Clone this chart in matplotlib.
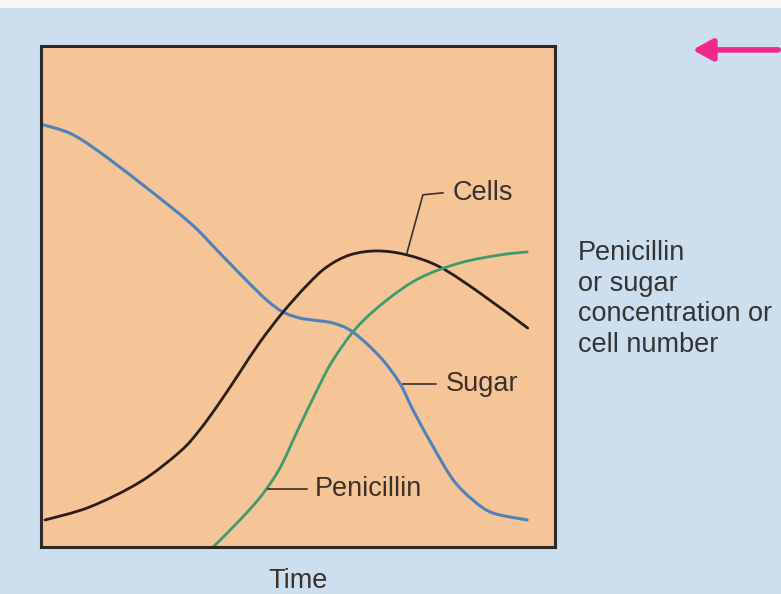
import numpy as np
import matplotlib.pyplot as plt
from matplotlib.path import Path
from matplotlib.patches import Rectangle, PathPatch, FancyArrowPatch

plt.rcParams['font.family'] = ['Liberation Sans', 'DejaVu Sans']

# values: time and level both on a 0-100 scale
sugar_t = [0.0, 5.6, 10.9, 19.3, 29.0, 34.2, 39.3, 43.9, 47.1, 50.4, 52.9, 56.8,
           60.7, 66.0, 69.8, 72.4, 76.3, 80.2, 84.0, 87.9, 94.6]
sugar_v = [84.4, 82.6, 79.2, 72.7, 64.7, 59.3, 53.9, 49.3, 46.9, 45.7, 45.3, 44.7,
           42.9, 37.9, 32.7, 27.3, 20.0, 13.4, 9.4, 6.8, 5.4]

cells_t = [0.8, 9.5, 19.3, 27.0, 30.9, 34.8, 38.7, 42.6, 47.1, 51.8, 55.6, 60.1,
           65.4, 71.2, 77.6, 85.4, 94.7]
cells_v = [5.4, 8.0, 13.0, 19.0, 23.4, 28.9, 34.9, 40.9, 46.9, 52.3, 55.9, 58.3,
           59.1, 58.3, 55.9, 50.7, 43.7]

pen_t = [33.5, 38.7, 43.0, 46.5, 49.8, 53.7, 56.8, 61.5, 67.3, 73.7, 81.5, 89.3, 94.6]
pen_v = [0.0, 5.4, 10.4, 15.8, 23.0, 31.3, 37.3, 43.9, 49.3, 53.7, 56.7, 58.3, 58.9]

bg = '#cddfee'
face = '#f5c597'
ink = '#3a302c'


def smooth_curve(ax, xs, ys, **kw):
    # Catmull-Rom curve through the read points, drawn as cubic Bezier segments
    p = np.column_stack([xs, ys]).astype(float)
    p = np.vstack([p[0], p, p[-1]])
    verts = [p[1]]
    codes = [Path.MOVETO]
    for i in range(1, len(p) - 2):
        c1 = p[i] + (p[i + 1] - p[i - 1]) / 6
        c2 = p[i + 1] - (p[i + 2] - p[i]) / 6
        verts += [c1, c2, p[i + 1]]
        codes += [Path.CURVE4] * 3
    patch = PathPatch(Path(verts, codes), fill=False, capstyle='round', **kw)
    ax.add_patch(patch)
    return patch


fig = plt.figure(figsize=(7.81, 5.94), dpi=100, facecolor=bg)
# pale strip along the top edge of the scan
fig.patches.append(Rectangle((0, 0.986), 1, 0.014, transform=fig.transFigure,
                             facecolor='#f4f6f8', edgecolor='none'))

ax = fig.add_axes([0.0525, 0.0791, 0.6581, 0.8434])
ax.set_facecolor(face)
ax.set_xlim(0, 100)
ax.set_ylim(0, 100)
ax.set_xticks([])
ax.set_yticks([])
for s in ax.spines.values():
    s.set_linewidth(2.2)
    s.set_color('#2e2826')

smooth_curve(ax, sugar_t, sugar_v, edgecolor='#4f82ba', lw=2.2)
smooth_curve(ax, cells_t, cells_v, edgecolor='#2b1d1a', lw=2.0)
smooth_curve(ax, pen_t, pen_v, edgecolor='#3f9a6c', lw=2.0)

# leader lines and curve labels
ax.plot([71.2, 74.3, 78.2], [58.7, 70.3, 70.7], color=ink, lw=1.2)
ax.text(80.0, 70.7, 'Cells', fontsize=19.5, color=ink, va='center')
ax.plot([70.4, 76.8], [32.5, 32.5], color=ink, lw=1.2)
ax.text(78.8, 32.5, 'Sugar', fontsize=19.5, color=ink, va='center')
ax.plot([44.2, 51.8], [11.6, 11.6], color=ink, lw=1.2)
ax.text(53.3, 11.6, 'Penicillin', fontsize=19.5, color=ink, va='center')

ax.set_xlabel('Time', fontsize=19.5, color=ink, labelpad=15)

fig.text(0.740, 0.4966, 'Penicillin\nor sugar\nconcentration or\ncell number',
         fontsize=19.5, color='#333333', va='center', ha='left', linespacing=1.22)

# pink arrow in the top right corner
fig.patches.append(FancyArrowPatch(
    (1.0, 0.916), (0.883, 0.916), transform=fig.transFigure,
    arrowstyle='-|>,head_length=12,head_width=6.5', color='#f0288a', lw=4))

fig.savefig('out.png', dpi=100, facecolor=bg)
